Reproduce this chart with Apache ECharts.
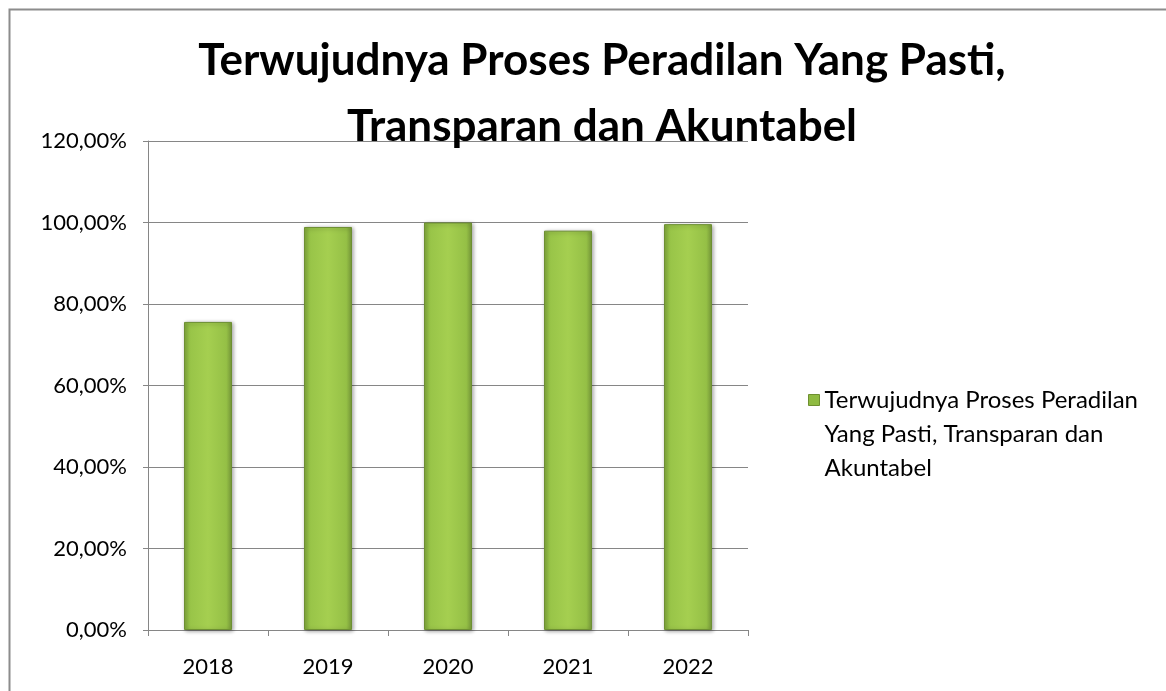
<!DOCTYPE html>
<html>
<head>
<meta charset="utf-8">
<script src="https://cdn.jsdelivr.net/npm/echarts@6/dist/echarts.min.js"></script>
<style>
  html, body { margin: 0; padding: 0; background: #fff; }
  #chart { width: 1166px; height: 691px; }
</style>
</head>
<body>
<div id="chart"></div>
<script>
var years = ['2018', '2019', '2020', '2021', '2022'];
var values = [0.756, 0.989, 1.000, 0.980, 0.996];
var seriesName = 'Terwujudnya Proses Peradilan Yang Pasti, Transparan dan Akuntabel';
var titleLines = ['Terwujudnya Proses Peradilan Yang Pasti,', 'Transparan dan Akuntabel'];
var legendLines = ['Terwujudnya Proses Peradilan', 'Yang Pasti, Transparan dan', 'Akuntabel'];

var font = 'Lato, "Open Sans", sans-serif';

function pct(v) {
    return (v * 100).toFixed(2).replace('.', ',') + '%';
}

var chart = echarts.init(document.getElementById('chart'));

var barFill = new echarts.graphic.LinearGradient(0, 0, 1, 0, [
    { offset: 0, color: '#80a73b' },
    { offset: 0.12, color: '#98c448' },
    { offset: 0.5, color: '#a5cf50' },
    { offset: 0.88, color: '#95c046' },
    { offset: 1, color: '#789b3a' }
]);

chart.setOption({
    animation: false,
    graphic: [{
        type: 'rect',
        shape: { x: 9.5, y: 9.5, width: 1200, height: 720 },
        style: { fill: 'none', stroke: '#8c8c8c', lineWidth: 2 },
        silent: true
    }],
    title: {
        text: titleLines.join('\n'),
        left: 597,
        top: 23,
        textAlign: 'center',
        textStyle: { fontFamily: font, fontWeight: 'bold', fontSize: 44, lineHeight: 66, color: '#000' }
    },
    legend: {
        data: [seriesName],
        left: 803,
        top: 310,
        itemWidth: 11,
        itemHeight: 11,
        icon: 'rect',
        itemStyle: { color: '#8fbb42', borderColor: '#6e8f30', borderWidth: 1 },
        // two blank lines in front keep the marker level with the first line
        formatter: function () { return ['\u00a0', '\u00a0'].concat(legendLines).join('\n'); },
        textStyle: { fontFamily: font, fontSize: 24, lineHeight: 34, color: '#000' }
    },
    grid: { left: 148, right: 418, top: 141, bottom: 61 },
    xAxis: {
        type: 'category',
        data: years,
        axisLine: { lineStyle: { color: '#868686', width: 1 } },
        axisTick: { show: true, length: 6, lineStyle: { color: '#868686' } },
        axisLabel: { fontFamily: font, fontSize: 22, color: '#000', margin: 26 }
    },
    yAxis: {
        type: 'value',
        min: 0,
        max: 1.2,
        interval: 0.2,
        axisLine: { show: true, lineStyle: { color: '#868686', width: 1 } },
        axisTick: { show: true, length: 5, lineStyle: { color: '#868686' } },
        splitLine: { lineStyle: { color: '#868686', width: 1 } },
        axisLabel: { fontFamily: font, fontSize: 22, color: '#000', margin: 21, formatter: pct }
    },
    series: [{
        name: seriesName,
        type: 'bar',
        data: values,
        barWidth: 48,
        itemStyle: {
            color: barFill,
            borderColor: '#6d8f33',
            borderWidth: 1,
            shadowColor: 'rgba(0,0,0,0.35)',
            shadowBlur: 4,
            shadowOffsetX: 1,
            shadowOffsetY: 1
        }
    }]
});
</script>
</body>
</html>
